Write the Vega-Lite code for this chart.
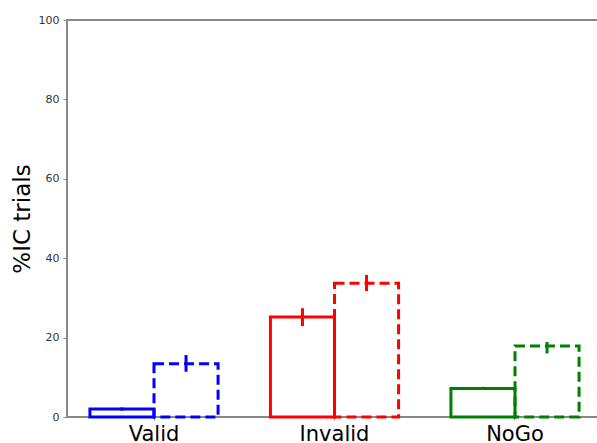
{
  "$schema": "https://vega.github.io/schema/vega-lite/v6.json",
  "width": 535,
  "height": 397,
  "autosize": "none",
  "padding": {"left": 67, "top": 20, "right": 0, "bottom": 26},
  "config": {
    "font": "DejaVu Sans",
    "view": {"stroke": "#888888", "strokeWidth": 2}
  },
  "data": {
    "values": [
      {"group": "Valid", "cond": "A", "value": 2.0, "lo": 1.6, "hi": 2.4},
      {"group": "Valid", "cond": "B", "value": 13.4, "lo": 11.4, "hi": 15.6},
      {"group": "Invalid", "cond": "A", "value": 25.2, "lo": 22.9, "hi": 27.4},
      {"group": "Invalid", "cond": "B", "value": 33.7, "lo": 31.7, "hi": 35.8},
      {"group": "NoGo", "cond": "A", "value": 7.2, "lo": 6.8, "hi": 7.6},
      {"group": "NoGo", "cond": "B", "value": 17.9, "lo": 16.0, "hi": 18.9}
    ]
  },
  "encoding": {
    "x": {
      "field": "group",
      "type": "nominal",
      "sort": ["Valid", "Invalid", "NoGo"],
      "scale": {"paddingInner": 0.29, "paddingOuter": 0.127, "align": 0.5},
      "axis": {
        "title": null,
        "labelAngle": 0,
        "labelFontSize": 21,
        "labelColor": "#000000",
        "domain": false,
        "tickColor": "#888888",
        "tickSize": 3,
        "tickWidth": 1,
        "labelPadding": 3
      }
    },
    "xOffset": {
      "field": "cond",
      "type": "nominal",
      "scale": {"paddingInner": 0, "paddingOuter": 0}
    }
  },
  "layer": [
    {
      "mark": {"type": "bar", "fill": "transparent", "strokeWidth": 3},
      "encoding": {
        "y": {
          "field": "value",
          "type": "quantitative",
          "scale": {"domain": [0, 100], "nice": false},
          "axis": {
            "values": [0, 20, 40, 60, 80, 100],
            "title": "%IC trials",
            "titleFontSize": 23,
            "titleFontWeight": "normal",
            "titleColor": "#000000",
            "titlePadding": 4,
            "labelFontSize": 11,
            "labelColor": "#333333",
            "labelPadding": 4,
            "domain": false,
            "tickColor": "#888888",
            "tickSize": 4,
            "tickWidth": 1,
            "grid": false
          }
        },
        "stroke": {
          "field": "group",
          "type": "nominal",
          "scale": {"domain": ["Valid", "Invalid", "NoGo"], "range": ["#0000ff", "#ff0000", "#008000"]},
          "legend": null
        },
        "strokeDash": {
          "field": "cond",
          "type": "nominal",
          "scale": {"domain": ["A", "B"], "range": [[1, 0], [10, 5]]},
          "legend": null
        }
      }
    },
    {
      "mark": {"type": "rule", "strokeWidth": 3},
      "encoding": {
        "y": {"field": "lo", "type": "quantitative"},
        "y2": {"field": "hi"},
        "stroke": {
          "field": "group",
          "type": "nominal",
          "scale": {"domain": ["Valid", "Invalid", "NoGo"], "range": ["#0000ff", "#ff0000", "#008000"]},
          "legend": null
        }
      }
    }
  ]
}
